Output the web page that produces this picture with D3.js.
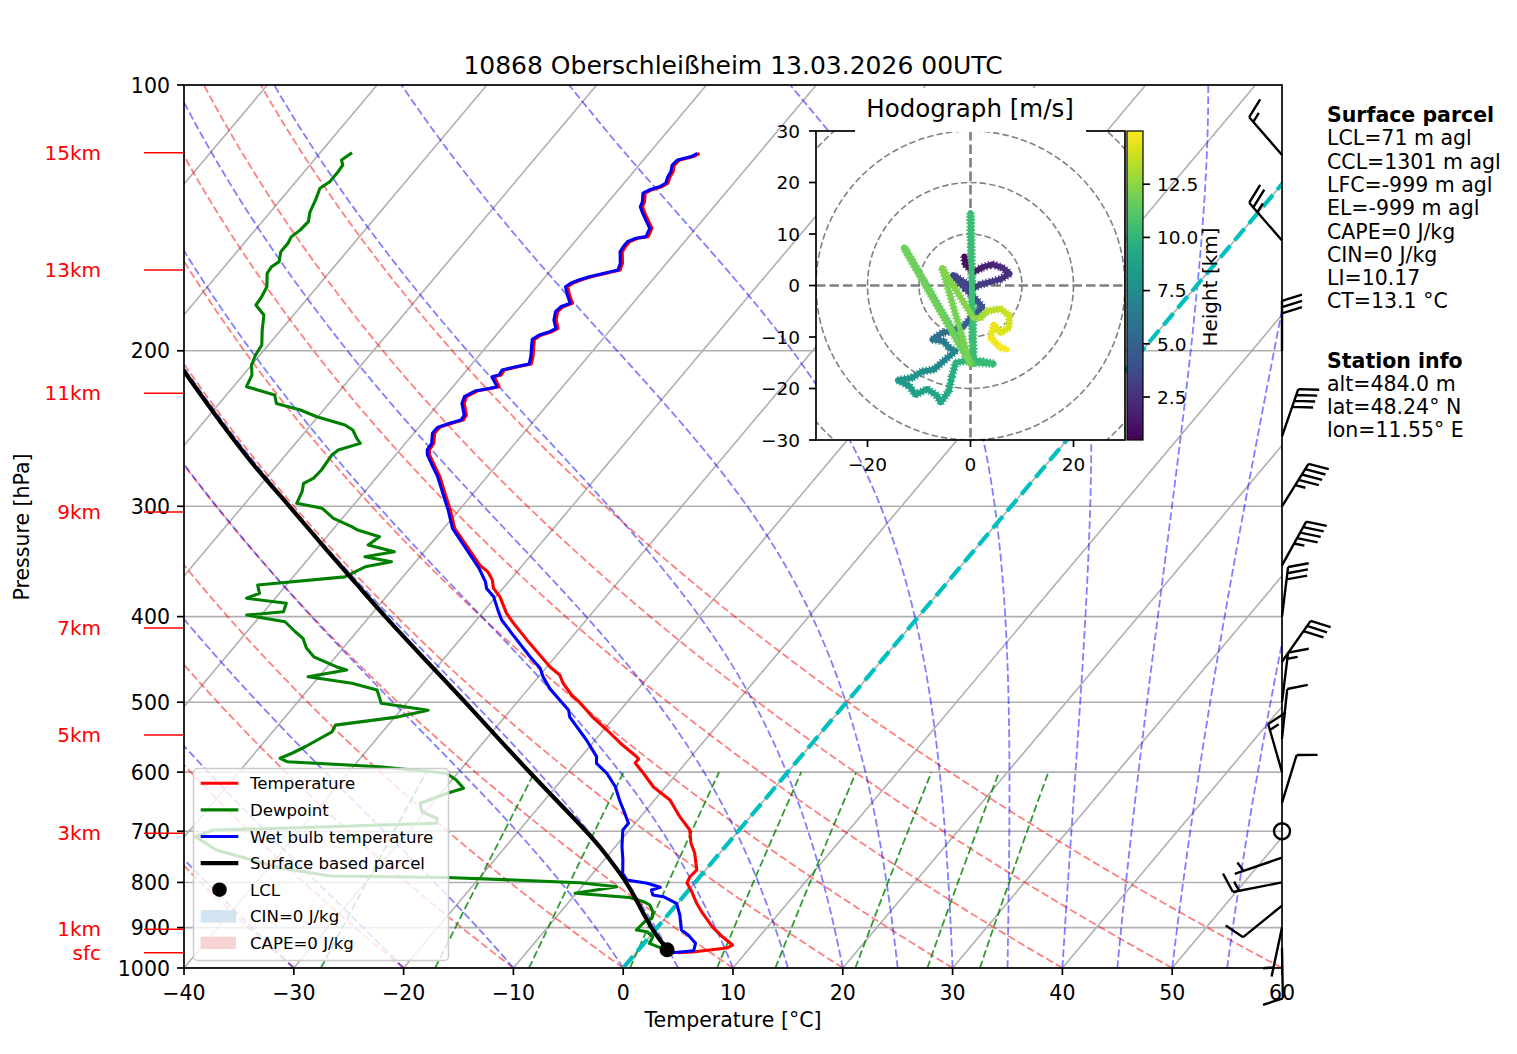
<!DOCTYPE html>
<html>
<head>
<meta charset="utf-8">
<script src="https://cdn.jsdelivr.net/npm/d3@7"></script>
<style>
  body { margin: 0; background: #fff; }
  svg { font-family: "DejaVu Sans", sans-serif; }
</style>
</head>
<body>
<svg id="chart" width="1517" height="1054"></svg>
<script>
// ---- sounding values ----
const titleText = "10868 Oberschleißheim 13.03.2026 00UTC";

const tempP = [119.5,120.5,121.6,123.2,125.4,127.0,129.2,130.4,131.5,132.6,135.6,137.4,139.7,142.8,145.3,148.5,149.1,150.5,152.5,154.5,159.2,162.0,163.4,164.9,166.3,167.7,169.2,172.9,176.7,178.3,180.6,184.6,188.6,190.3,191.9,194.1,197.9,203.1,207.0,208.5,210.3,213.0,214.0,219.6,220.6,221.9,225.4,229.4,236.5,239.6,241.6,244.2,248.0,254.6,259.0,262.4,269.4,277.7,282.6,292.6,302.9,317.7,349.7,356.2,363.7,371.3,380.2,396.3,406.8,428.6,456.1,465.8,475.6,490.7,501.0,519.7,537.6,556.1,576.8,579.8,585.9,601.4,623.7,645.2,674.4,697.7,721.8,740.8,774.4,788.7,801.1,815.9,844.1,866.3,898.7,922.4,941.9,949.3,959.2,961.0];
const tempT = [-55.4,-55.7,-56.7,-56.8,-56.4,-56.3,-56.0,-56.3,-57.0,-57.3,-56.7,-56.5,-55.8,-54.8,-54.0,-53.7,-54.5,-55.0,-55.0,-54.9,-54.0,-53.7,-54.7,-55.8,-56.5,-57.0,-57.2,-56.4,-55.5,-56.1,-56.2,-55.7,-54.9,-55.2,-55.9,-56.2,-55.7,-55.0,-54.6,-55.6,-56.6,-56.5,-57.0,-55.8,-56.4,-57.4,-58.0,-57.7,-56.6,-56.5,-57.3,-58.1,-58.1,-57.4,-57.3,-56.9,-55.7,-54.3,-53.6,-52.2,-50.8,-49.0,-43.9,-42.6,-41.6,-40.9,-39.6,-37.8,-36.4,-33.4,-29.7,-28.2,-27.3,-25.6,-24.2,-22.0,-19.7,-17.5,-14.9,-14.6,-14.6,-13.1,-11.1,-8.6,-6.4,-4.5,-3.4,-2.3,-0.8,-0.9,-0.7,0.2,1.7,3.0,5.0,6.7,8.2,7.9,5.1,3.8];

const wetbP = [119.5,120.5,121.6,123.2,125.4,127.0,129.2,130.4,131.5,132.6,135.6,137.4,139.7,142.8,145.3,148.5,149.1,150.5,152.5,154.5,159.2,162.0,163.4,164.9,166.3,167.7,169.2,172.9,176.7,178.3,180.6,184.6,188.6,190.3,191.9,194.1,197.9,203.1,207.0,208.5,210.3,213.0,214.0,219.6,220.6,221.9,225.4,229.4,236.5,239.6,241.6,244.2,248.0,254.6,259.0,262.4,269.4,277.7,282.6,292.6,302.9,317.7,352.8,365.3,371.6,379.9,393.3,403.6,419.8,444.2,457.7,467.8,482.3,497.1,510.5,519.5,533.0,551.8,576.3,586.4,601.8,623.2,645.2,668.0,685.6,697.7,728.7,754.5,781.1,794.9,801.7,810.2,815.9,826.6,830.3,844.7,870.9,905.8,917.7,937.7,956.0,961.0];
const wetbT = [-55.6,-55.9,-56.9,-57.0,-56.6,-56.5,-56.2,-56.5,-57.2,-57.5,-56.9,-56.7,-56.0,-55.0,-54.2,-53.9,-54.7,-55.2,-55.2,-55.1,-54.2,-53.9,-54.9,-56.0,-56.7,-57.2,-57.4,-56.6,-55.7,-56.3,-56.4,-55.9,-55.1,-55.4,-56.1,-56.4,-55.9,-55.2,-54.8,-55.8,-56.8,-56.7,-57.2,-56.0,-56.6,-57.6,-58.2,-57.9,-56.8,-56.7,-57.5,-58.3,-58.3,-57.6,-57.5,-57.1,-55.9,-54.5,-53.8,-52.4,-51.0,-49.2,-43.7,-42.1,-41.5,-40.2,-38.8,-37.7,-35.5,-32.3,-30.5,-29.6,-28.1,-26.3,-24.7,-24.1,-22.7,-20.8,-18.6,-18.1,-16.4,-14.6,-13.2,-11.7,-10.6,-10.6,-9.4,-8.3,-7.3,-6.4,-4.3,-2.8,-3.4,-2.9,-1.8,-0.1,1.1,2.4,3.4,4.7,5.1,3.3];

const dewpP = [119.3,121.6,123.2,125.9,128.7,130.9,135.0,139.2,142.8,146.0,148.5,151.1,154.5,158.5,160.6,163.4,169.2,173.7,177.5,182.2,189.5,197.0,202.2,207.6,213.0,219.6,224.4,229.4,233.4,237.5,242.7,245.9,251.3,254.6,259.0,262.4,272.9,278.9,282.6,288.8,297.7,301.6,309.6,316.4,319.2,324.8,331.9,337.8,342.2,346.7,351.3,360.6,368.4,376.4,381.3,386.3,395.0,398.4,405.4,416.1,423.3,434.5,444.2,455.8,459.7,467.8,475.9,484.3,501.4,510.5,519.5,530.8,540.1,561.6,571.2,578.7,583.9,591.6,601.8,612.4,625.8,634.0,650.8,665.3,676.9,685.6,694.7,697.7,710.0,735.0,770.4,786.7,789.8,794.9,800.6,809.0,823.0,832.1,841.3,848.5,863.6,878.4,886.3,905.8,909.8,921.7,937.7,948.3,961.0];
const dewpT = [-87.1,-87.5,-87.0,-86.9,-86.9,-87.3,-86.8,-86.4,-85.8,-85.9,-86.2,-86.0,-86.0,-85.4,-85.7,-85.6,-84.6,-84.3,-84.2,-82.7,-81.7,-80.6,-80.4,-80.0,-79.2,-78.8,-75.6,-74.8,-72.1,-70.1,-66.9,-65.8,-64.8,-64.1,-65.6,-65.8,-65.6,-65.7,-66.2,-65.7,-65.3,-62.6,-60.8,-58.5,-57.7,-55.2,-55.6,-52.7,-55.0,-52.2,-54.2,-55.3,-62.6,-61.8,-62.6,-58.6,-58.2,-61.3,-57.3,-55.6,-54.4,-53.3,-52.0,-49.2,-48.0,-51.0,-46.5,-43.7,-42.3,-37.5,-39.7,-44.8,-44.6,-45.9,-46.6,-47.3,-46.4,-37.6,-31.0,-29.6,-28.3,-29.4,-31.1,-30.3,-28.4,-28.1,-41.9,-47.9,-49.0,-46.1,-38.9,-33.7,-23.0,-16.7,-10.5,-6.8,-10.1,-4.8,-3.2,-2.4,-1.6,-1.2,-1.6,-1.7,-0.6,0.3,0.5,1.8,3.1];

const parcP = [961.0,953.5,900,837.5,800,728.7,700,600,500,450,400,368.4,334.7,300,274.1,244.8,210.9,200];
const parcT = [3.4,2.6,-0.6,-4.0,-6.2,-11.4,-13.8,-23.6,-34.7,-41.3,-48.6,-53.5,-59.3,-65.7,-71.2,-77.6,-85.7,-88.5];
const lclP = [953.5];
const lclT = [2.6];

const hgtLabels = ["15km","13km","11km","9km","7km","5km","3km","1km","sfc"];
const hgtP = [119.3,162.0,223.4,304.5,412.1,544.6,703.9,904.1,960.9];

// wind barbs (knots, direction wind comes from)
const windP = [120,150,200,250,300,350,400,450,500,550,600,650,700,750,800,850,900,950];
const windDir = [319,319,0,19,32,29,7,35,7,6,344,17,0,251,259,231,192,179];
const windSpd = [15,25,30,40,45,45,30,30,15,10,15,10,0,5,15,10,5,10];

// hodograph track (m/s) and height (km)
const hodoU = [-1.2,-1.0,0.6,2.3,4.2,6.1,7.6,5.8,3.9,1.9,0.6,-3.4,-1.0,1.3,2.3,0.0,-1.3,-3.6,-5.5,-7.4,-5.2,-4.2,-2.9,-7.1,-9.4,-11.3,-14.1,-11.9,-10.7,-8.4,-6.5,-5.8,-4.2,-3.6,-2.9,-0.3,2.3,4.5,0.6,0.0,0.5,-12.9,-0.1,-5.5,0.6,1.9,3.2,5.8,7.6,7.4,5.8,4.5,3.9,5.8,7.1];
const hodoV = [5.7,4.1,2.6,3.5,4.1,3.5,2.3,1.2,0.7,0.2,-0.5,2.0,-0.6,-3.0,-4.2,-6.3,-7.9,-8.8,-9.2,-10.5,-10.8,-12.1,-12.7,-16.3,-16.7,-17.9,-18.4,-19.5,-21.2,-20.1,-21.4,-22.7,-20.5,-17.6,-15.0,-14.5,-14.7,-15.2,-15.0,14.1,-15.3,7.4,-15.2,3.4,-6.3,-6.3,-5.0,-4.5,-5.9,-8.2,-9.2,-7.6,-10.1,-12.1,-12.4];
const hodoH = [0.5,0.9,1.3,1.6,1.9,2.2,2.4,2.6,2.8,3.0,3.2,3.4,3.6,3.9,4.2,4.6,5.0,5.4,5.7,6.0,6.3,6.6,6.9,7.4,7.7,8.0,8.2,8.4,8.6,8.8,9.0,9.1,9.3,9.5,9.7,9.9,10.1,10.2,10.3,10.4,10.5,11.8,11.9,12.2,12.4,12.8,13.2,13.6,13.9,14.1,14.3,14.4,14.6,14.8,15.0];

const parcelInfo = ["LCL=71 m agl","CCL=1301 m agl","LFC=-999 m agl","EL=-999 m agl","CAPE=0 J/kg","CIN=0 J/kg","LI=10.17","CT=13.1 °C"];
const stationInfo = ["alt=484.0 m","lat=48.24° N","lon=11.55° E"];

// reference lines of the diagram (MetPy defaults)
const dryT0 = d3.range(-40, 61, 10);
const moistT0 = [-40,-30,-20,-10,0,5,10,15,20,25,30,35,40,45,50,55,60];
const mixRatios = [0.0004,0.001,0.002,0.004,0.007,0.01,0.016,0.024,0.032];

const legendLabels = ["Temperature","Dewpoint","Wet bulb temperature","Surface based parcel","LCL","CIN=0 J/kg","CAPE=0 J/kg"];

// ---- setup ----
const svg = d3.select("#chart");
const x = d3.scaleLinear().domain([-40, 60]).range([184, 1282]);
const y = d3.scaleLog().domain([1000, 100]).range([968, 85]);
const SKEW = 0.8404;
const sx = (t, p) => x(t) + SKEW * (y(1000) - y(p));
const skewLine = d3.line().x(d => sx(d[1], d[0])).y(d => y(d[0]));

const defs = svg.append("defs");
defs.append("clipPath").attr("id", "clipMain").append("rect")
  .attr("x", 184).attr("y", 85).attr("width", 1098).attr("height", 883);
defs.append("clipPath").attr("id", "clipHodo").append("rect")
  .attr("x", 816).attr("y", 131).attr("width", 309).attr("height", 309);

const plot = svg.append("g").attr("clip-path", "url(#clipMain)");

// grid: skewed isotherms and pressure lines
plot.selectAll(".iso").data(d3.range(-110, 61, 10)).join("line")
  .attr("x1", t => sx(t, 1000)).attr("y1", y(1000))
  .attr("x2", t => sx(t, 100)).attr("y2", y(100))
  .attr("stroke", "#b0b0b0").attr("stroke-width", 1.6);
const pTicks = d3.range(100, 1001, 100);
plot.selectAll(".pg").data(pTicks).join("line")
  .attr("x1", 184).attr("x2", 1282)
  .attr("y1", p => y(p)).attr("y2", p => y(p))
  .attr("stroke", "#b0b0b0").attr("stroke-width", 1.6);

// dry adiabats
const pAll = d3.range(0, 91).map(i => 1000 * Math.pow(0.1, i / 90));
plot.selectAll(".dry").data(dryT0).join("path")
  .attr("d", t0 => skewLine(pAll.map(p => [p, (t0 + 273.15) * Math.pow(p / 1000, 0.28571) - 273.15])))
  .attr("fill", "none").attr("stroke", "#ff0000").attr("stroke-opacity", 0.5)
  .attr("stroke-width", 1.8).attr("stroke-dasharray", "7.7,3.3");

// moist adiabats
const Rd = 287.04749, Cpd = 1004.6662, Lv = 2.50084e6, EPS = 0.6219569;
const satVap = tk => 6.112 * Math.exp(17.67 * (tk - 273.15) / (tk - 29.65));
function moistRate(p, tk) {
  const e = satVap(tk);
  const rs = EPS * e / Math.max(p - e, 1);
  return (Rd * tk + Lv * rs) / (Cpd + Lv * Lv * rs * EPS / (Rd * tk * tk)) / p;
}
function moistAdiabat(t0) {
  let tk = t0 + 273.15;
  const out = [[pAll[0], t0]];
  for (let i = 1; i < pAll.length; i++) {
    const p = pAll[i - 1], h = pAll[i] - p;
    const k1 = moistRate(p, tk);
    const k2 = moistRate(p + h / 2, tk + h / 2 * k1);
    const k3 = moistRate(p + h / 2, tk + h / 2 * k2);
    const k4 = moistRate(p + h, tk + h * k3);
    tk += h / 6 * (k1 + 2 * k2 + 2 * k3 + k4);
    out.push([pAll[i], tk - 273.15]);
  }
  return out;
}
plot.selectAll(".moist").data(moistT0).join("path")
  .attr("d", t0 => skewLine(moistAdiabat(t0)))
  .attr("fill", "none").attr("stroke", "#0000ff").attr("stroke-opacity", 0.5)
  .attr("stroke-width", 1.8).attr("stroke-dasharray", "7.7,3.3");

// mixing ratio lines 1000-600 hPa
const pMix = d3.range(0, 41).map(i => 1000 - i * 10);
plot.selectAll(".mix").data(mixRatios).join("path")
  .attr("d", w => skewLine(pMix.map(p => {
    const l = Math.log((p * w / (EPS + w)) / 6.112);
    return [p, 243.5 * l / (17.67 - l)];
  })))
  .attr("fill", "none").attr("stroke", "#008000").attr("stroke-opacity", 0.8)
  .attr("stroke-width", 1.8).attr("stroke-dasharray", "7.7,3.3");

// 0 degC isotherm
plot.append("line")
  .attr("x1", sx(0, 1000)).attr("y1", y(1000)).attr("x2", sx(0, 100)).attr("y2", y(100))
  .attr("stroke", "#00bfbf").attr("stroke-width", 4.2).attr("stroke-dasharray", "15.4,6.7");

// profiles
const prof = (P, T, col, w, curve) => plot.append("path")
  .attr("d", d3.line().x(d => sx(d[1], d[0])).y(d => y(d[0])).curve(curve || d3.curveLinear)(d3.zip(P, T)))
  .attr("fill", "none").attr("stroke", col).attr("stroke-width", w)
  .attr("stroke-linejoin", "round");
prof(tempP, tempT, "#ff0000", 3.1);
prof(dewpP, dewpT, "#008000", 3.1);
prof(wetbP, wetbT, "#0000ff", 3.1);
prof(parcP, parcT, "#000000", 4.2, d3.curveBasis);
plot.selectAll(".lcl").data(d3.zip(lclP, lclT)).join("circle")
  .attr("cx", d => sx(d[1], d[0])).attr("cy", d => y(d[0])).attr("r", 7.5).attr("fill", "#000");

// legend
const lg = svg.append("g");
lg.append("rect").attr("x", 193.5).attr("y", 768.5).attr("width", 255).attr("height", 192).attr("rx", 4)
  .attr("fill", "#fff").attr("fill-opacity", 0.8).attr("stroke", "#cccccc").attr("stroke-width", 1.5);
const legY = i => 783.3 + i * 26.6;
const legCols = ["#ff0000", "#008000", "#0000ff", "#000000"];
legCols.forEach((c, i) => lg.append("line").attr("x1", 200.7).attr("x2", 238.3)
  .attr("y1", legY(i)).attr("y2", legY(i)).attr("stroke", c).attr("stroke-width", i === 3 ? 4.2 : 3.1));
lg.append("circle").attr("cx", 219.5).attr("cy", legY(4)).attr("r", 7.3).attr("fill", "#000");
lg.append("rect").attr("x", 200.7).attr("y", legY(5) - 6.2).attr("width", 35.3).attr("height", 12.4).attr("fill", "#d2e4f0");
lg.append("rect").attr("x", 200.7).attr("y", legY(6) - 6.2).attr("width", 35.3).attr("height", 12.4).attr("fill", "#f7d4d4");
lg.selectAll("text").data(legendLabels).join("text")
  .attr("x", 250).attr("y", (d, i) => legY(i) + 6).attr("font-size", 16.6).text(d => d);

// axes frame and ticks
svg.append("rect").attr("x", 184).attr("y", 85).attr("width", 1098).attr("height", 883)
  .attr("fill", "none").attr("stroke", "#000").attr("stroke-width", 1.7);
const ax = svg.append("g").attr("font-size", 20.5);
ax.selectAll(".yt").data(pTicks).join("line")
  .attr("x1", 177).attr("x2", 184).attr("y1", p => y(p)).attr("y2", p => y(p)).attr("stroke", "#000").attr("stroke-width", 1.7);
ax.selectAll(".yl").data(pTicks).join("text")
  .attr("x", 170).attr("y", p => y(p) + 7.5).attr("text-anchor", "end").text(p => p);
const tTicks = d3.range(-40, 61, 10);
ax.selectAll(".xt").data(tTicks).join("line")
  .attr("x1", t => x(t)).attr("x2", t => x(t)).attr("y1", 968).attr("y2", 975).attr("stroke", "#000").attr("stroke-width", 1.7);
ax.selectAll(".xl").data(tTicks).join("text")
  .attr("x", t => x(t)).attr("y", 999.5).attr("text-anchor", "middle").text(t => t < 0 ? "\u2212" + (-t) : t);
ax.append("text").attr("x", 733).attr("y", 1027).attr("text-anchor", "middle").text("Temperature [°C]");
ax.append("text").attr("transform", "translate(29,527) rotate(-90)").attr("text-anchor", "middle").text("Pressure [hPa]");
svg.append("text").attr("x", 733).attr("y", 73.5).attr("text-anchor", "middle").attr("font-size", 25).text(titleText);

// height markers
const hg = svg.append("g");
hg.selectAll("line").data(hgtP).join("line")
  .attr("x1", 144).attr("x2", 184).attr("y1", p => y(p)).attr("y2", p => y(p))
  .attr("stroke", "#ff0000").attr("stroke-width", 1.5);
hg.selectAll("text").data(hgtLabels).join("text")
  .attr("x", 101).attr("y", (d, i) => y(hgtP[i]) + 7).attr("text-anchor", "end")
  .attr("font-size", 20).attr("fill", "#ff0000").text(d => d);

// wind barbs on the right spine
function drawBarb(g, px, py, dir, spd) {
  const L = 50, fh = 0.4 * L, fw = 0.25 * L, sp = 0.125 * L;
  const r = dir * Math.PI / 180, ux = Math.sin(r), uy = -Math.cos(r), bx = -uy, by = ux;
  const P = (o, s) => [px + ux * o + bx * s, py + uy * o + by * s];
  let mag = 5 * Math.round(spd / 5);
  if (mag < 5) {
    g.append("circle").attr("cx", px).attr("cy", py).attr("r", 8)
      .attr("fill", "none").attr("stroke", "#000").attr("stroke-width", 2.4);
    return;
  }
  const nf = Math.floor(mag / 50); mag -= nf * 50;
  const nb = Math.floor(mag / 10); mag -= nb * 10;
  const half = mag >= 5;
  let d = "M" + P(0, 0) + "L" + P(L, 0);
  let off = L;
  for (let i = 0; i < nf; i++) { d += "M" + P(off, 0) + "L" + P(off - fw / 2, fh) + "L" + P(off - fw, 0) + "Z"; off -= fw + sp; }
  for (let i = 0; i < nb; i++) { d += "M" + P(off, 0) + "L" + P(off + fw / 2, fh); off -= sp; }
  if (half) { if (off === L) off -= 1.5 * sp; d += "M" + P(off, 0) + "L" + P(off + fw / 4, fh / 2); }
  g.append("path").attr("d", d).attr("fill", "none").attr("stroke", "#000").attr("stroke-width", 2.4);
}
const bg = svg.append("g");
windP.forEach((p, i) => drawBarb(bg, 1282, y(p), windDir[i], windSpd[i]));

// ---- hodograph ----
const hx = d3.scaleLinear().domain([-30, 30]).range([816, 1125]);
const hy = d3.scaleLinear().domain([-30, 30]).range([440, 131]);
const hodoRange = [0.48, 15.0];
const cScale = d3.scaleSequential(d3.interpolateViridis).domain(hodoRange);
const ho = svg.append("g");
ho.append("rect").attr("x", 816).attr("y", 131).attr("width", 309).attr("height", 309).attr("fill", "#fff");
const hin = ho.append("g").attr("clip-path", "url(#clipHodo)");
hin.selectAll(".ring").data([10, 20, 30, 40]).join("circle")
  .attr("cx", hx(0)).attr("cy", hy(0)).attr("r", r => hx(r) - hx(0))
  .attr("fill", "none").attr("stroke", "#808080").attr("stroke-width", 1.6).attr("stroke-dasharray", "6.5,3");
hin.append("line").attr("x1", 816).attr("x2", 1125).attr("y1", hy(0)).attr("y2", hy(0))
  .attr("stroke", "#808080").attr("stroke-width", 2.6).attr("stroke-dasharray", "9.5,4");
hin.append("line").attr("y1", 131).attr("y2", 440).attr("x1", hx(0)).attr("x2", hx(0))
  .attr("stroke", "#808080").attr("stroke-width", 2.6).attr("stroke-dasharray", "9.5,4");
const track = d3.pairs(d3.zip(hodoU, hodoV, hodoH));
// fringe: the original track is drawn from many noisy points, giving a comb-like edge
[[8.5, "1.2,2.2"], [5.5, null]].forEach(([w, dash]) => {
  hin.append("g").selectAll("line").data(track).join("line")
    .attr("x1", d => hx(d[0][0])).attr("y1", d => hy(d[0][1]))
    .attr("x2", d => hx(d[1][0])).attr("y2", d => hy(d[1][1]))
    .attr("stroke", d => cScale((d[0][2] + d[1][2]) / 2))
    .attr("stroke-width", w).attr("stroke-dasharray", dash)
    .attr("stroke-linecap", dash ? "butt" : "round");
});
ho.append("rect").attr("x", 816).attr("y", 131).attr("width", 309).attr("height", 309)
  .attr("fill", "none").attr("stroke", "#000").attr("stroke-width", 1.7);
ho.append("rect").attr("x", 855).attr("y", 88).attr("width", 231).attr("height", 44).attr("fill", "#fff");
ho.append("text").attr("x", 970).attr("y", 116.7).attr("text-anchor", "middle").attr("font-size", 24.5).text("Hodograph [m/s]");
const hTicks = d3.range(-30, 31, 10);
const minus = v => v < 0 ? "\u2212" + (-v) : String(v);
ho.selectAll(".hyt").data(hTicks).join("line")
  .attr("x1", 809).attr("x2", 816).attr("y1", v => hy(v)).attr("y2", v => hy(v)).attr("stroke", "#000").attr("stroke-width", 1.7);
ho.selectAll(".hyl").data(hTicks).join("text")
  .attr("x", 800).attr("y", v => hy(v) + 6.8).attr("text-anchor", "end").attr("font-size", 18.5).text(minus);
ho.selectAll(".hxt").data([-20, 0, 20]).join("line")
  .attr("x1", v => hx(v)).attr("x2", v => hx(v)).attr("y1", 440).attr("y2", 447).attr("stroke", "#000").attr("stroke-width", 1.7);
ho.selectAll(".hxl").data([-20, 0, 20]).join("text")
  .attr("x", v => hx(v)).attr("y", 471).attr("text-anchor", "middle").attr("font-size", 18.5).text(minus);

// colorbar
const cbY = d3.scaleLinear().domain(hodoRange).range([440, 131]);
const grad = defs.append("linearGradient").attr("id", "vir").attr("x1", 0).attr("y1", 1).attr("x2", 0).attr("y2", 0);
d3.range(0, 1.001, 0.05).forEach(t => grad.append("stop").attr("offset", t).attr("stop-color", d3.interpolateViridis(t)));
ho.append("rect").attr("x", 1127).attr("y", 131).attr("width", 16).attr("height", 309)
  .attr("fill", "url(#vir)").attr("stroke", "#000").attr("stroke-width", 1.2);
const cbTicks = [2.5, 5, 7.5, 10, 12.5];
ho.selectAll(".cbt").data(cbTicks).join("line")
  .attr("x1", 1143).attr("x2", 1150).attr("y1", v => cbY(v)).attr("y2", v => cbY(v)).attr("stroke", "#000").attr("stroke-width", 1.7);
ho.selectAll(".cbl").data(cbTicks).join("text")
  .attr("x", 1157).attr("y", v => cbY(v) + 6.8).attr("font-size", 18.5).text(v => v.toFixed(1));
ho.append("text").attr("transform", "translate(1210,287) rotate(-90)").attr("text-anchor", "middle")
  .attr("dominant-baseline", "central").attr("font-size", 20).text("Height [km]");

// info text
const info = svg.append("g").attr("font-size", 20.5);
info.append("text").attr("x", 1327).attr("y", 122).attr("font-weight", "bold").text("Surface parcel");
info.selectAll(".pi").data(parcelInfo).join("text")
  .attr("x", 1327).attr("y", (d, i) => 145.3 + i * 23.3).text(d => d);
info.append("text").attr("x", 1327).attr("y", 367.5).attr("font-weight", "bold").text("Station info");
info.selectAll(".si").data(stationInfo).join("text")
  .attr("x", 1327).attr("y", (d, i) => 390.8 + i * 23.3).text(d => d);
</script>
</body>
</html>
